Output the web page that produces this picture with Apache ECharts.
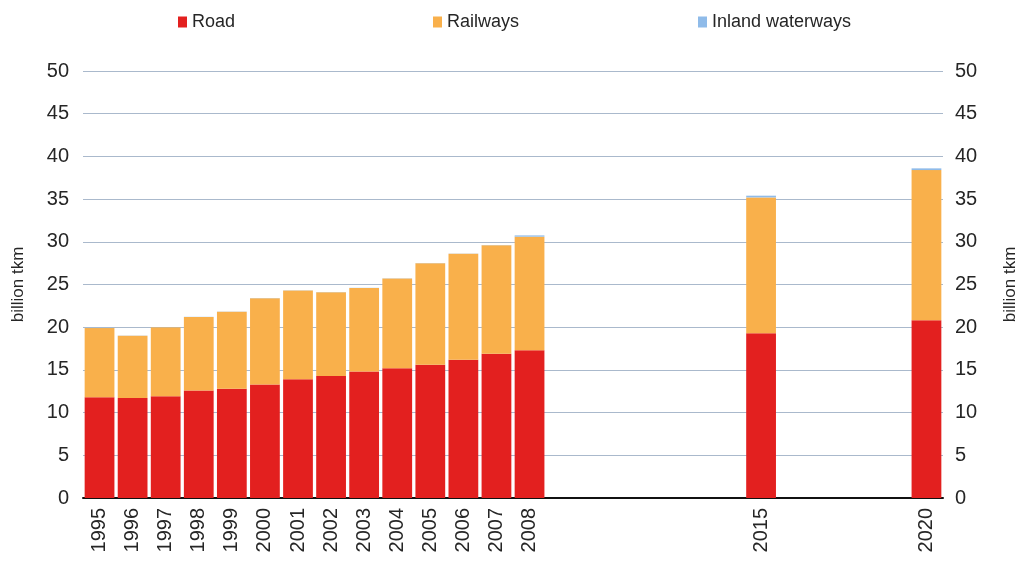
<!DOCTYPE html>
<html>
<head>
<meta charset="utf-8">
<script src="https://cdn.jsdelivr.net/npm/echarts@6/dist/echarts.min.js"></script>
<style>
  html, body { margin: 0; padding: 0; background: #fff; }
  #chart { width: 1019px; height: 570px; }
</style>
</head>
<body>
<div id="chart"></div>
<script>
// Years on the category axis (gaps = years without data)
const years = ['1995','1996','1997','1998','1999','2000','2001','2002','2003','2004','2005','2006','2007','2008',
               '2009','2010','2011','2012','2013','2014','2015','2016','2017','2018','2019','2020'];
const labelledYears = ['1995','1996','1997','1998','1999','2000','2001','2002','2003','2004','2005','2006','2007','2008','2015','2020'];

// billion tkm
const road = [11.8, 11.7, 11.9, 12.6, 12.8, 13.3, 13.9, 14.3, 14.8, 15.2, 15.6, 16.2, 16.9, 17.3,
              null, null, null, null, null, null, 19.3, null, null, null, null, 20.8];
const railways = [8.1, 7.3, 8.1, 8.6, 9.0, 10.1, 10.4, 9.8, 9.8, 10.5, 11.9, 12.4, 12.7, 13.3,
              null, null, null, null, null, null, 15.9, null, null, null, null, 17.6];
const inlandWaterways = [0.02, 0.02, 0.02, 0.02, 0.02, 0.02, 0.02, 0.02, 0.02, 0.02, 0.02, 0.02, 0.02, 0.15,
              null, null, null, null, null, null, 0.2, null, null, null, null, 0.2];

const yTicks = [0, 5, 10, 15, 20, 25, 30, 35, 40, 45, 50];

const chart = echarts.init(document.getElementById('chart'));
const font = 'Liberation Sans, Arial, sans-serif';
const textColor = '#262626';

const legendCommon = {
  top: 8, itemWidth: 9, itemHeight: 11, itemGap: 5,
  textStyle: { fontFamily: font, fontSize: 18, color: textColor },
  icon: 'rect'
};

function yAxis(pos, nameGap, margin) {
  return {
    type: 'value', position: pos, min: yTicks[0], max: yTicks[yTicks.length - 1], interval: 5,
    name: 'billion tkm', nameLocation: 'middle', nameRotate: 90, nameGap: nameGap,
    nameTextStyle: { fontFamily: font, fontSize: 17, color: textColor },
    axisLine: { show: false }, axisTick: { show: false },
    axisLabel: { fontFamily: font, fontSize: 20, color: textColor, margin: margin },
    splitLine: { show: pos === 'left', lineStyle: { color: '#aab9cc', width: 1 } }
  };
}

chart.setOption({
  animation: false,
  backgroundColor: '#ffffff',
  legend: [
    Object.assign({ left: 173, data: ['Road'] }, legendCommon),
    Object.assign({ left: 428, data: ['Railways'] }, legendCommon),
    Object.assign({ left: 693, data: ['Inland waterways'] }, legendCommon)
  ],
  grid: { left: 83, right: 76, top: 71, bottom: 72, outerBoundsMode: 'none', containLabel: false },
  xAxis: {
    type: 'category', data: years,
    axisLine: { lineStyle: { color: '#111', width: 2 } },
    axisTick: { show: false },
    axisLabel: {
      interval: 0, rotate: 90, margin: 10,
      fontFamily: font, fontSize: 20, color: textColor,
      formatter: v => labelledYears.indexOf(v) >= 0 ? v : ''
    }
  },
  yAxis: [yAxis('left', 56, 14), yAxis('right', 59, 12)],
  series: [
    { name: 'Road', type: 'bar', stack: 't', data: road, barCategoryGap: '10%',
      itemStyle: { color: '#e3201f' } },
    { name: 'Railways', type: 'bar', stack: 't', data: railways,
      itemStyle: { color: '#f9b04b' } },
    { name: 'Inland waterways', type: 'bar', stack: 't', data: inlandWaterways,
      itemStyle: { color: '#8fbbe9' } }
  ]
});
</script>
</body>
</html>
